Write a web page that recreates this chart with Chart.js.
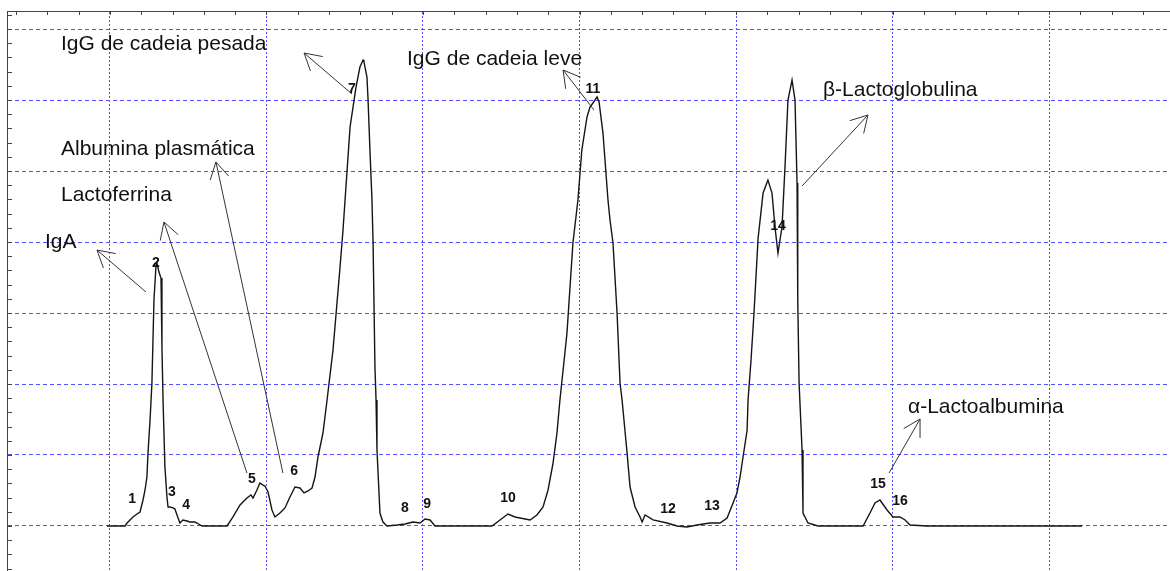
<!DOCTYPE html>
<html>
<head>
<meta charset="utf-8">
<script src="https://cdn.jsdelivr.net/npm/chart.js@4/dist/chart.umd.min.js"></script>
<style>
    html, body { margin: 0; padding: 0; background: #fff; overflow: hidden; }
    canvas { display: block; }
</style>
</head>
<body>
<canvas id="chart" width="1170" height="571"></canvas>
<script>
'use strict';

// tempo de retenção (min) e sinal do detector
const retTime = [
    9.81, 10.96, 11.09, 11.28, 11.47, 11.73, 11.92, 12.11, 12.24, 12.36,
    12.43, 12.56, 12.68, 12.81, 12.94, 13.00, 13.13, 13.26, 13.32, 13.39,
    13.51, 13.64, 13.71, 13.83, 14.03, 14.15, 14.35, 14.47, 14.66, 14.92,
    15.11, 15.43, 15.56, 15.88, 17.48, 17.86, 18.31, 18.75, 19.01, 19.14,
    19.39, 19.58, 19.78, 19.90, 20.10, 20.35, 20.54, 20.86, 21.18, 21.50,
    21.82, 22.14, 22.40, 22.65, 22.91, 23.10, 23.29, 23.61, 23.87, 24.25,
    24.70, 24.89, 25.02, 25.34, 25.53, 25.72, 25.97, 26.17, 26.23, 26.42,
    26.49, 26.61, 26.74, 26.81, 26.93, 27.00, 27.06, 27.25, 27.44, 27.70,
    28.34, 28.85, 29.36, 29.81, 30.13, 30.45, 30.77, 34.41, 34.92, 35.43,
    35.88, 36.84, 37.28, 37.67, 37.99, 38.31, 38.56, 38.75, 39.20, 39.58,
    39.90, 40.15, 40.48, 40.67, 40.86, 41.12, 41.25, 41.50, 41.82, 41.95,
    42.14, 42.40, 42.59, 42.72, 43.04, 43.23, 43.55, 43.87, 44.00, 44.19,
    44.70, 45.59, 46.23, 46.87, 47.51, 48.34, 48.98, 49.43, 49.81, 50.06,
    50.26, 50.45, 50.71, 50.77, 50.96, 51.15, 51.41, 51.73, 52.04, 52.30,
    52.49, 52.68, 52.94, 53.13, 53.32, 53.58, 53.77, 53.90, 53.93, 53.96,
    54.03, 54.22, 54.28, 54.60, 55.24, 58.12, 58.56, 58.88, 59.20, 59.65,
    60.03, 60.48, 60.80, 61.12, 62.21, 72.11
];
const signal = [
    0, 0, 0.42, 0.85, 1.27, 1.69, 1.97, 3.66, 5.07, 6.90,
    10.28, 14.93, 20.14, 31.83, 36.62, 37.04, 35.77, 34.93, 25.21, 17.75,
    8.31, 4.08, 2.68, 2.68, 2.54, 2.39, 1.13, 0.42, 0.85, 0.70,
    0.56, 0.56, 0.42, 0, 0, 1.27, 2.96, 3.94, 4.37, 3.94,
    5.07, 6.06, 5.77, 5.63, 4.79, 2.25, 1.27, 1.83, 2.54, 4.08,
    5.49, 5.35, 4.65, 4.93, 5.35, 6.90, 9.72, 13.10, 17.75, 24.79,
    36.48, 41.69, 45.92, 56.20, 59.01, 61.83, 64.65, 65.63, 65.35, 63.24,
    60.00, 52.96, 45.92, 39.86, 22.39, 17.75, 10.70, 1.83, 0.56, 0,
    0.14, 0.28, 0.56, 0.42, 0.99, 0.85, 0, 0, 0.85, 1.69,
    1.27, 0.85, 1.55, 2.68, 5.07, 8.87, 13.10, 17.75, 27.18, 39.86,
    45.92, 52.96, 57.61, 59.01, 59.58, 60.42, 59.72, 55.35, 45.92, 43.10,
    39.86, 30.00, 20.14, 17.75, 10.28, 5.49, 2.68, 1.27, 0.56, 1.55,
    0.85, 0.42, 0, -0.14, 0.14, 0.42, 0.42, 1.13, 3.24, 4.65,
    6.90, 9.72, 13.52, 17.75, 23.38, 30.00, 40.50, 46.90, 48.73, 46.90,
    42.11, 38.45, 42.11, 50.56, 60.00, 62.82, 60.00, 48.31, 39.30, 31.83,
    20.14, 10.70, 1.83, 0.42, 0, 0, 1.83, 3.24, 3.66, 2.25,
    1.27, 1.27, 0.85, 0.14, 0, 0
];

// números dos picos
const peakNums = ['1', '2', '3', '4', '5', '6', '7', '8', '9', '10', '11', '12', '13', '14', '15', '16'];
const peakNumX = [11.41, 12.94, 13.96, 14.86, 19.07, 21.76, 25.46, 28.85, 30.26, 35.43, 40.86, 45.65, 48.47, 52.68, 59.07, 60.48];
const peakNumY = [3.80, 37.04, 4.79, 2.96, 6.62, 7.75, 61.55, 2.54, 3.10, 3.94, 61.55, 2.39, 2.82, 42.25, 5.92, 3.52];

// proteínas identificadas
const proteinNames = [
    'IgG de cadeia pesada', 'Albumina plasmática', 'Lactoferrina', 'IgA',
    'IgG de cadeia leve', 'β-Lactoglobulina', 'α-Lactoalbumina'
];
const proteinX = [6.87, 6.87, 6.87, 5.85, 28.98, 55.56, 60.99];
const proteinY = [67.04, 52.25, 45.77, 39.15, 64.93, 60.56, 15.92];

// setas: do pico até o nome
const arrowTailX = [25.46, 21.05, 18.75, 12.30, 40.93, 54.22, 59.78];
const arrowTailY = [60.85, 7.46, 7.46, 32.96, 58.59, 47.89, 7.46];
const arrowTipX = [22.40, 16.77, 13.45, 9.17, 38.95, 58.43, 61.76];
const arrowTipY = [66.62, 51.27, 42.82, 38.87, 64.23, 57.89, 15.07];

const overlay = {
    id: 'overlay',
    afterDraw(chart) {
        const ctx = chart.ctx;
        const area = chart.chartArea;
        const x = chart.scales.x;
        const y = chart.scales.y;
        ctx.save();

        // marcas menores nos eixos, para dentro
        ctx.strokeStyle = '#444';
        ctx.lineWidth = 1;
        ctx.beginPath();
        for (let i = Math.ceil(x.min / 2); i * 2 <= x.max; i++) {
            const px = Math.round(x.getPixelForValue(i * 2)) + 0.5;
            ctx.moveTo(px, area.top);
            ctx.lineTo(px, area.top + 4);
        }
        for (let i = Math.ceil(y.min / 2); i * 2 <= y.max; i++) {
            const py = Math.round(y.getPixelForValue(i * 2)) + 0.5;
            ctx.moveTo(area.left, py);
            ctx.lineTo(area.left + 5, py);
        }
        ctx.stroke();

        // setas
        ctx.strokeStyle = '#333';
        ctx.beginPath();
        for (let i = 0; i < arrowTipX.length; i++) {
            const x1 = x.getPixelForValue(arrowTailX[i]);
            const y1 = y.getPixelForValue(arrowTailY[i]);
            const x2 = x.getPixelForValue(arrowTipX[i]);
            const y2 = y.getPixelForValue(arrowTipY[i]);
            const a = Math.atan2(y1 - y2, x1 - x2);
            ctx.moveTo(x1, y1);
            ctx.lineTo(x2, y2);
            for (const d of [-0.52, 0.52]) {
                ctx.moveTo(x2, y2);
                ctx.lineTo(x2 + 19 * Math.cos(a + d), y2 + 19 * Math.sin(a + d));
            }
        }
        ctx.stroke();

        // nomes
        ctx.fillStyle = '#111';
        ctx.font = '21px "Liberation Sans", Arial, sans-serif';
        ctx.textAlign = 'left';
        ctx.textBaseline = 'alphabetic';
        for (let i = 0; i < proteinNames.length; i++) {
            ctx.fillText(proteinNames[i], x.getPixelForValue(proteinX[i]), y.getPixelForValue(proteinY[i]));
        }

        // números dos picos
        ctx.font = 'bold 14px "Liberation Sans", Arial, sans-serif';
        ctx.textAlign = 'center';
        ctx.textBaseline = 'middle';
        for (let i = 0; i < peakNums.length; i++) {
            ctx.fillText(peakNums[i], x.getPixelForValue(peakNumX[i]), y.getPixelForValue(peakNumY[i]));
        }
        ctx.restore();
    }
};

const gridBlue = 'rgb(80, 80, 255)';

const ctx = document.getElementById('chart').getContext('2d');
new Chart(ctx, {
    type: 'line',
    data: {
        datasets: [{
            data: retTime.map((t, i) => ({ x: t, y: signal[i] })),
            borderColor: '#151515',
            borderWidth: 1.4,
            pointRadius: 0,
            tension: 0,
            fill: false,
        }],
    },
    options: {
        responsive: false,
        animation: false,
        events: [],
        layout: { padding: { left: 7, top: 11, right: 0, bottom: 0 } },
        plugins: { legend: { display: false }, tooltip: { enabled: false } },
        scales: {
            x: {
                type: 'linear',
                position: 'top',
                min: 3.42,
                max: 77.73,
                ticks: { display: false, stepSize: 10, includeBounds: false },
                grid: { color: gridBlue, lineWidth: 1, drawTicks: false },
                border: { display: true, color: '#444', width: 1, dash: [2, 2] },
            },
            y: {
                type: 'linear',
                position: 'left',
                min: -6.34,
                max: 72.54,
                ticks: { display: false, stepSize: 10, includeBounds: false },
                grid: { color: gridBlue, lineWidth: 1, drawTicks: false },
                border: { display: true, color: '#444', width: 1, dash: [4, 3] },
            },
        },
    },
    plugins: [overlay],
});
</script>
</body>
</html>
